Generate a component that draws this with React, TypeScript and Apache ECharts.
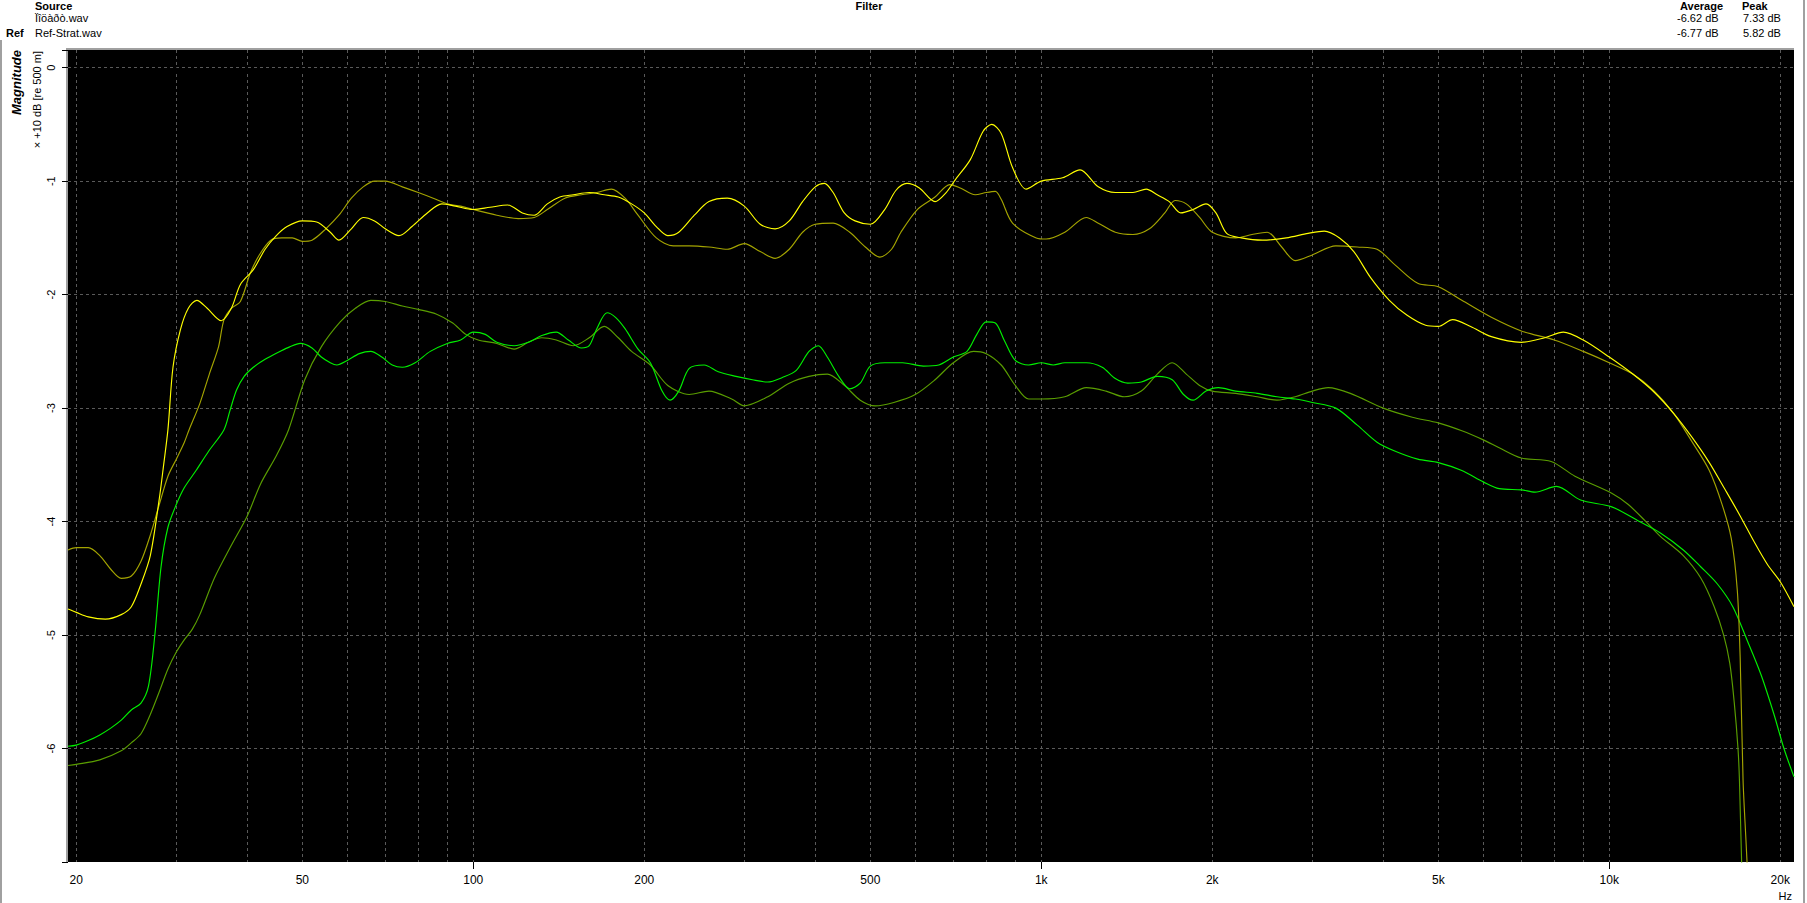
import { useEffect, useRef } from 'react';
import * as echarts from 'echarts';

// header table
const SOURCE_FILES = ['Ïîöàðò.wav', 'Ref-Strat.wav'];
const AVERAGES = ['-6.62 dB', '-6.77 dB'];
const PEAKS = ['7.33 dB', '5.82 dB'];

// axes
const FREQ_MIN = 19.34;
const FREQ_MAX = 21145;
const DB_MIN = -7;
const DB_MAX = 0.156;
const FREQ_GRID = [
  20, 30, 40, 50, 60, 70, 80, 90, 100, 200, 300, 400, 500, 600, 700, 800, 900,
  1000, 2000, 3000, 4000, 5000, 6000, 7000, 8000, 9000, 10000, 20000,
];
const FREQ_MAJOR = [100, 1000, 10000];
const FREQ_LABELS = [20, 50, 100, 200, 500, 1000, 2000, 5000, 10000, 20000];

// Source (bright yellow)
const srcUpper: [number, number][] = [
  [19.34, -4.77], [20, -4.8], [21, -4.84], [22.5, -4.86], [24, -4.82], [25, -4.75], [26, -4.55],
  [27, -4.3], [28, -3.8], [28.5, -3.5], [29, -3.19], [29.6, -2.64], [30.5, -2.31], [31.5, -2.12],
  [32.6, -2.05], [34, -2.12], [36, -2.23], [37.5, -2.12], [38.9, -1.91], [41, -1.78], [43, -1.6],
  [45, -1.48], [47, -1.4], [50, -1.35], [53, -1.36], [56, -1.45], [58, -1.52], [61, -1.42],
  [64, -1.32], [67, -1.35], [70, -1.42], [74, -1.48], [78, -1.4], [83, -1.28], [88, -1.2],
  [93, -1.22], [100, -1.25], [107, -1.23], [115, -1.21], [122, -1.28], [128, -1.3], [135, -1.2],
  [142, -1.14], [150, -1.12], [160, -1.1], [170, -1.12], [180, -1.14], [190, -1.2], [200, -1.28],
  [210, -1.4], [220, -1.48], [230, -1.45], [245, -1.3], [260, -1.18], [280, -1.15], [300, -1.22],
  [320, -1.38], [340, -1.42], [360, -1.35], [380, -1.18], [400, -1.05], [415, -1.02], [430, -1.1],
  [450, -1.28], [470, -1.35], [500, -1.38], [530, -1.25], [555, -1.08], [580, -1.02], [610, -1.06],
  [650, -1.18], [680, -1.1], [705, -0.99], [750, -0.81], [790, -0.56], [818, -0.5], [850, -0.58],
  [890, -0.88], [940, -1.07], [1000, -1.0], [1090, -0.97], [1170, -0.9], [1260, -1.05],
  [1350, -1.1], [1450, -1.1], [1530, -1.07], [1600, -1.12], [1680, -1.18], [1760, -1.28],
  [1850, -1.25], [1950, -1.2], [2030, -1.28], [2120, -1.46], [2250, -1.5], [2450, -1.52],
  [2700, -1.5], [2950, -1.46], [3150, -1.44], [3350, -1.5], [3550, -1.62], [3800, -1.85],
  [4100, -2.05], [4400, -2.18], [4750, -2.27], [5000, -2.28], [5300, -2.22], [5700, -2.28],
  [6200, -2.37], [7000, -2.42], [7700, -2.38], [8300, -2.33], [9000, -2.4], [10000, -2.55],
  [11000, -2.7], [12000, -2.86], [13000, -3.05], [14000, -3.26], [15000, -3.48], [16000, -3.72],
  [17000, -3.95], [18000, -4.18], [19000, -4.38], [20000, -4.53], [21145, -4.75],
];

// Ref (dark yellow)
const refUpper: [number, number][] = [
  [19.34, -4.25], [20, -4.23], [21, -4.23], [22, -4.3], [23, -4.42], [24, -4.5], [25, -4.48],
  [26, -4.35], [27, -4.12], [28, -3.85], [29, -3.6], [30, -3.45], [31, -3.3], [31.6, -3.19],
  [33, -2.96], [34.3, -2.7], [35.6, -2.46], [36.4, -2.22], [37.5, -2.12], [38.9, -2.06],
  [40.5, -1.81], [42, -1.65], [44, -1.52], [46, -1.5], [48, -1.5], [50, -1.53], [52, -1.52],
  [55, -1.42], [58, -1.3], [61, -1.15], [64, -1.05], [67, -1.0], [70, -1.0], [75, -1.05],
  [80, -1.1], [85, -1.15], [90, -1.2], [95, -1.22], [100, -1.25], [110, -1.3], [120, -1.33],
  [128, -1.32], [135, -1.25], [145, -1.15], [155, -1.12], [165, -1.1], [175, -1.07], [185, -1.15],
  [195, -1.3], [210, -1.5], [225, -1.57], [240, -1.57], [260, -1.58], [280, -1.6], [300, -1.55],
  [320, -1.62], [340, -1.68], [360, -1.6], [380, -1.45], [400, -1.38], [430, -1.37], [460, -1.45],
  [490, -1.58], [520, -1.67], [545, -1.6], [566, -1.45], [605, -1.25], [650, -1.14], [690, -1.03],
  [720, -1.06], [765, -1.12], [800, -1.1], [830, -1.09], [850, -1.16], [890, -1.37], [980, -1.5],
  [1020, -1.51], [1100, -1.45], [1200, -1.32], [1260, -1.37], [1350, -1.45],
  [1450, -1.47], [1550, -1.42], [1650, -1.28], [1720, -1.17], [1800, -1.2], [1900, -1.32],
  [2000, -1.45], [2200, -1.5], [2350, -1.47], [2500, -1.45], [2650, -1.58], [2800, -1.7],
  [3000, -1.65], [3300, -1.57], [3600, -1.58], [3900, -1.6], [4200, -1.74], [4600, -1.9],
  [5000, -1.93], [5500, -2.05], [6200, -2.2], [7000, -2.32], [8000, -2.4], [9000, -2.5],
  [10000, -2.6], [11000, -2.7], [12000, -2.85], [13000, -3.05], [14000, -3.3], [15000, -3.55],
  [15800, -3.85], [16400, -4.15], [16800, -4.6], [17000, -5.2], [17200, -6.28], [17400, -6.8],
  [17600, -7.3],
];

// Source (bright green)
const srcLower: [number, number][] = [
  [19.34, -5.98], [20, -5.97], [21, -5.93], [22, -5.88], [23, -5.82], [24, -5.75], [25, -5.66],
  [26, -5.6], [26.8, -5.45], [27.5, -5.0], [28.2, -4.4], [29, -4.05], [30, -3.85], [31, -3.7],
  [32.5, -3.55], [34.2, -3.38], [36.4, -3.19], [37.3, -3.02], [38.3, -2.84], [39.5, -2.72],
  [41, -2.64], [43, -2.57], [45.7, -2.5], [47.5, -2.46], [49.6, -2.43], [52, -2.47], [54, -2.55],
  [56, -2.6], [57.5, -2.62], [60, -2.58], [63, -2.52], [66, -2.5], [69, -2.55], [72, -2.62],
  [75, -2.64], [79, -2.6], [84, -2.5], [90, -2.43], [95, -2.4], [100, -2.33], [105, -2.35],
  [110, -2.42], [118, -2.45], [125, -2.42], [132, -2.36], [140, -2.33], [147, -2.4], [155, -2.47],
  [160, -2.45], [165, -2.3], [172, -2.16], [178, -2.2], [185, -2.3], [195, -2.48], [205, -2.6],
  [215, -2.85], [222, -2.93], [230, -2.85], [240, -2.65], [255, -2.62], [270, -2.68], [290, -2.72],
  [310, -2.75], [330, -2.77], [350, -2.73], [370, -2.67], [390, -2.5], [405, -2.45], [420, -2.55],
  [440, -2.72], [460, -2.83], [480, -2.78], [500, -2.63], [530, -2.6], [570, -2.6], [620, -2.63],
  [660, -2.62], [700, -2.55], [740, -2.5], [770, -2.35], [800, -2.24], [830, -2.25], [860, -2.4],
  [900, -2.58], [950, -2.62], [1000, -2.6], [1050, -2.62], [1100, -2.6], [1200, -2.6],
  [1280, -2.64], [1350, -2.74], [1420, -2.78], [1500, -2.77], [1600, -2.72], [1700, -2.75],
  [1780, -2.88], [1850, -2.93], [1950, -2.85], [2050, -2.82], [2200, -2.85], [2400, -2.87],
  [2600, -2.9], [2800, -2.92], [3000, -2.95], [3300, -3.0], [3600, -3.15], [3900, -3.3],
  [4200, -3.38], [4600, -3.45], [5000, -3.48], [5500, -3.55], [6000, -3.65], [6400, -3.71],
  [7000, -3.72], [7400, -3.74], [8070, -3.69], [8900, -3.81], [10100, -3.87], [11300, -4.0],
  [12300, -4.1], [13500, -4.25], [14500, -4.4], [15500, -4.55], [16500, -4.75], [17500, -5.05],
  [18500, -5.35], [19500, -5.7], [20300, -6.0], [21145, -6.25],
];

// Ref (dark green)
const refLower: [number, number][] = [
  [19.34, -6.15], [20, -6.14], [22, -6.1], [24, -6.02], [25, -5.95], [26, -5.87], [27, -5.7],
  [28, -5.5], [29, -5.3], [30, -5.15], [31, -5.04], [32, -4.95], [33, -4.82], [35, -4.5],
  [37.4, -4.22], [40, -3.95], [42.2, -3.67], [45, -3.42], [47.3, -3.19], [50.5, -2.75],
  [54, -2.46], [58.3, -2.24], [62, -2.12], [66, -2.05], [70, -2.06], [75, -2.1], [80, -2.13],
  [86, -2.17], [92, -2.25], [97, -2.35], [102, -2.4], [110, -2.43], [118, -2.48], [125, -2.42],
  [132, -2.38], [140, -2.4], [150, -2.45], [160, -2.38], [170, -2.28], [180, -2.38], [190, -2.5],
  [205, -2.62], [220, -2.8], [240, -2.88], [260, -2.85], [285, -2.92], [300, -2.98], [330, -2.9],
  [360, -2.78], [390, -2.72], [420, -2.7], [450, -2.8], [480, -2.93], [510, -2.98], [550, -2.95],
  [600, -2.88], [650, -2.75], [700, -2.6], [760, -2.5], [800, -2.52], [850, -2.62], [900, -2.8],
  [950, -2.92], [1000, -2.92], [1100, -2.9], [1200, -2.82], [1300, -2.85], [1400, -2.9],
  [1500, -2.85], [1600, -2.7], [1700, -2.6], [1800, -2.7], [1900, -2.8], [2000, -2.85],
  [2200, -2.87], [2400, -2.9], [2600, -2.93], [2800, -2.9], [3000, -2.85], [3200, -2.82],
  [3500, -2.87], [4000, -3.0], [4500, -3.08], [5000, -3.13], [5500, -3.2], [6000, -3.28],
  [6400, -3.35], [7000, -3.44], [7900, -3.47], [8700, -3.6], [10100, -3.75], [10800, -3.85],
  [11600, -4.0], [12300, -4.13], [13500, -4.3], [14500, -4.5], [15300, -4.75], [15900, -5.0],
  [16300, -5.25], [16600, -5.6], [16850, -6.0], [16950, -6.28], [17100, -7.0], [17250, -7.5],
];

const FONT = '"Liberation Sans", Arial, sans-serif';

function fmtFreq(v: number) {
  const r = Math.round(v);
  return r >= 1000 ? `${r / 1000}k` : String(r);
}

function fmtDb(v: number) {
  const r = Math.round(v);
  if (Math.abs(v - r) > 1e-6 || r <= DB_MIN || r > 0) return '';
  return r === 0 ? '0' : String(r);
}

function headerText(text: string, x: number, y: number, bold = false, align = 'left') {
  return {
    type: 'text',
    x,
    y,
    silent: true,
    style: {
      text,
      fill: '#000',
      font: `${bold ? 'bold ' : ''}11px ${FONT}`,
      align,
      verticalAlign: 'middle',
    },
  };
}

export default function App() {
  const chartRef = useRef<HTMLDivElement>(null);

  useEffect(() => {
    if (!chartRef.current) return;
    const chart = echarts.init(chartRef.current, undefined, { renderer: 'svg' });

    const line = (name: string, data: [number, number][], color: string) => ({
      name,
      type: 'line',
      data,
      showSymbol: false,
      smooth: 0.3,
      clip: true,
      lineStyle: { color, width: 1.15 },
      emphasis: { disabled: true },
    });

    const graphics: any[] = [
      // window borders
      { type: 'rect', shape: { x: 0, y: 40, width: 2, height: 863 }, style: { fill: '#a0a0a0' } },
      { type: 'rect', shape: { x: 1803, y: 0, width: 2, height: 903 }, style: { fill: '#a0a0a0' } },
      // sunken frame of the plot
      { type: 'rect', shape: { x: 66, y: 48, width: 1728, height: 2 }, style: { fill: '#a0a0a0' } },
      { type: 'rect', shape: { x: 66, y: 48, width: 2, height: 815 }, style: { fill: '#a0a0a0' } },
      // header
      headerText('Source', 35, 6, true),
      headerText('Filter', 869, 6, true, 'center'),
      headerText('Average', 1680, 6, true),
      headerText('Peak', 1742, 6, true),
      headerText('Ref', 6, 33, true),
      // axis titles
      {
        type: 'text',
        x: 16,
        y: 50,
        rotation: Math.PI / 2,
        style: {
          text: 'Magnitude',
          fill: '#000',
          font: `italic bold 13px ${FONT}`,
          align: 'right',
          verticalAlign: 'middle',
        },
      },
      {
        type: 'text',
        x: 37,
        y: 51,
        rotation: Math.PI / 2,
        style: {
          text: '× +10 dB [re 500 m]',
          fill: '#000',
          font: `11px ${FONT}`,
          align: 'right',
          verticalAlign: 'middle',
        },
      },
      headerText('Hz', 1792, 896, false, 'right'),
    ];
    SOURCE_FILES.forEach((f, i) => {
      const y = 18 + i * 15;
      graphics.push(headerText(f, 35, y));
      graphics.push(headerText(AVERAGES[i], 1677, y));
      graphics.push(headerText(PEAKS[i], 1743, y));
    });

    const xBase = {
      type: 'log',
      logBase: 10,
      min: FREQ_MIN,
      max: FREQ_MAX,
      axisLine: { show: false },
    };

    chart.setOption({
      animation: false,
      backgroundColor: '#fff',
      textStyle: { fontFamily: FONT },
      grid: {
        left: 68,
        top: 50,
        right: 13,
        bottom: 41,
        show: true,
        backgroundColor: '#000',
        borderWidth: 0,
      },
      xAxis: [
        {
          ...xBase,
          axisTick: { show: true, length: 4, customValues: FREQ_GRID, lineStyle: { color: '#000' } },
          axisLabel: {
            customValues: FREQ_LABELS,
            formatter: fmtFreq,
            color: '#000',
            fontSize: 12,
            fontFamily: FONT,
            margin: 12,
          },
          splitLine: { show: true, lineStyle: { color: '#5a5a5a', type: [3, 3], width: 1 } },
        },
        {
          ...xBase,
          position: 'bottom',
          axisTick: { show: true, length: 7, customValues: FREQ_MAJOR, lineStyle: { color: '#000' } },
          axisLabel: { show: false },
          splitLine: { show: false },
        },
      ],
      yAxis: {
        type: 'value',
        min: DB_MIN,
        max: DB_MAX,
        interval: 1,
        axisLine: { show: false },
        axisTick: { show: true, length: 6, lineStyle: { color: '#000' } },
        axisLabel: {
          rotate: 90,
          formatter: fmtDb,
          color: '#000',
          fontSize: 11,
          fontFamily: FONT,
          margin: 12,
        },
        splitLine: {
          show: true,
          showMinLine: false,
          showMaxLine: false,
          lineStyle: { color: '#5a5a5a', type: [3, 3], width: 1 },
        },
      },
      series: [
        line('Ref-Strat.wav (low)', refLower, '#5a9e00'),
        line('Ïîöàðò.wav (low)', srcLower, '#00f000'),
        line('Ref-Strat.wav', refUpper, '#a4a400'),
        line('Ïîöàðò.wav', srcUpper, '#ffff00'),
      ],
      graphic: graphics,
    });

    return () => {
      chart.dispose();
    };
  }, []);

  return (
    <div
      ref={chartRef}
      style={{ position: 'fixed', left: 0, top: 0, width: 1807, height: 903, background: '#fff' }}
    />
  );
}
